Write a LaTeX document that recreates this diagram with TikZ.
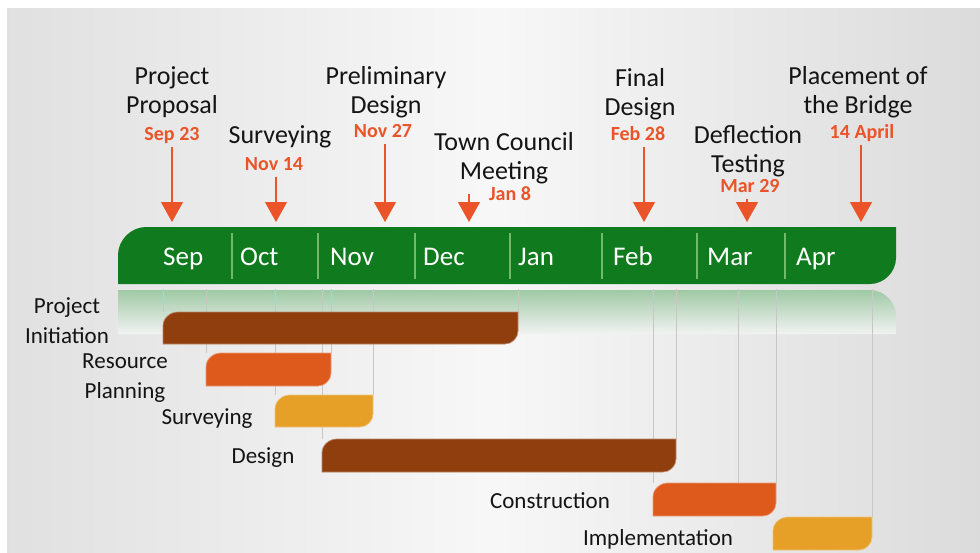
\documentclass[tikz,border=0pt]{standalone}
\usepackage{fontspec}
\setmainfont{Carlito}
\usetikzlibrary{positioning,arrows.meta,backgrounds}

\definecolor{barGreen}{RGB}{16,122,30}
\definecolor{sepGreen}{RGB}{112,186,104}
\definecolor{msRed}{RGB}{234,84,40}
\definecolor{inkBlack}{RGB}{20,20,20}
\definecolor{barBrown}{RGB}{145,62,15}
\definecolor{barOrange}{RGB}{222,90,28}
\definecolor{barGold}{RGB}{230,160,40}

% task bar: name, start, end, top, bottom, colour
\newcommand{\taskbar}[6]{%
  \fill[#6, draw=#6!62!white, line width=0.7pt]
    (#2,#5) -- (#2,#4+14) .. controls (#2,#4+6) and (#2+7,#4) .. (#2+15,#4) -- (#3,#4)
    -- (#3,#5-13) .. controls (#3,#5-6) and (#3-6,#5) .. (#3-13,#5) -- cycle;
  \coordinate (#1-s) at (#2,#4);
  \coordinate (#1-e) at (#3,#4);
}

\begin{document}
\begin{tikzpicture}[
    x=1pt, y=-1pt,
    milestone/.style={align=center, anchor=base, inner sep=0pt, text=inkBlack,
        font=\fontsize{26}{29}\selectfont},
    msdate/.style={anchor=base, text=msRed, inner xsep=0pt, inner ysep=4pt,
        text height=0.7em, text depth=0.25em,
        font=\bfseries\fontsize{20}{22}\selectfont},
    pin/.style={draw=msRed, line width=1.1pt, -{Triangle[width=22pt,length=20pt]}},
    month/.style={anchor=base west, inner sep=0pt, text=white,
        font=\fontsize{27}{30}\selectfont},
    monthsep/.style={draw=sepGreen, line width=2pt},
    task/.style={align=center, anchor=base, inner sep=0pt, text=inkBlack,
        font=\fontsize{23}{29.5}\selectfont},
    gridline/.style={draw=black!22, line width=0.6pt}
]
\useasboundingbox (0,0) rectangle (980,552);
\begin{scope}[on background layer]
  \fill[white] (0,0) rectangle (980,552);
  \shade[left color=black!12, right color=black!14, middle color=black!3] (7,8) rectangle (980,552);
  % reflection of the month axis
  \shade[top color=barGreen!40!white, bottom color=black!5]
    (118,290) -- (870,290) .. controls (884,290) and (896,302) .. (896,316) -- (896,334) -- (118,334) -- cycle;
\end{scope}

% month axis
\fill[barGreen] (118,284) -- (118,255) .. controls (118,240) and (131,227) .. (146,227) -- (896,227)
  -- (896,258) .. controls (896,272) and (884,284) .. (870,284) -- cycle;
\foreach \x in {232,318,415,510,602,697,785}
  \draw[monthsep] (\x,233) -- (\x,279);
\foreach \m/\x in {Sep/163,Oct/240,Nov/330,Dec/423,Jan/518,Feb/613,Mar/707,Apr/796}
  \node[month] (m\m) at (\x,265) {\m};

% milestones (base = last line)
\node[milestone] (tProp) at (172,113) {Project\\Proposal};
\node[msdate] (dProp) at (172,140) {Sep 23};
\node[milestone] (tSurv) at (280,143) {Surveying};
\node[msdate] (dSurv) at (274,170) {Nov 14};
\node[milestone] (tPrel) at (386,113) {Preliminary\\Design};
\node[msdate] (dPrel) at (383,137) {Nov 27};
\node[milestone] (tMeet) at (504,179) {Town Council\\Meeting};
\node[msdate] (dMeet) at (510,200) {Jan 8};
\node[milestone] (tFinal) at (640,115) {Final\\Design};
\node[msdate] (dFinal) at (638,140) {Feb 28};
\node[milestone] (tDefl) at (748,172) {Deflection\\Testing};
\node[msdate] (dDefl) at (750,192) {Mar 29};
\node[milestone] (tPlace) at (858,113) {Placement of\\the Bridge};
\node[msdate] (dPlace) at (862,138) {14 April};

\coordinate (aProp) at (172,222);
\coordinate (aSurv) at (276,222);
\coordinate (aPrel) at (385,222);
\coordinate (aMeet) at (469,222);
\coordinate (aFinal) at (644,222);
\coordinate (aDefl) at (747,222);
\coordinate (aPlace) at (861,222);

\draw[pin] (dProp.south -| aProp) -- (aProp);
\draw[pin] (dSurv.south -| aSurv) -- (aSurv);
\draw[pin] (dPrel.south -| aPrel) -- (aPrel);
\draw[pin, shorten <=5pt] (dMeet.north -| aMeet) -- (aMeet);
\draw[pin] (dFinal.south -| aFinal) -- (aFinal);
\draw[pin] (dDefl.south -| aDefl) -- (aDefl);
\draw[pin] (dPlace.south -| aPlace) -- (aPlace);

% tasks
\taskbar{init}{163}{518}{312}{344}{barBrown}
\taskbar{res}{206}{331}{353}{386}{barOrange}
\taskbar{surv}{275}{373}{395}{427}{barGold}
\taskbar{des}{322}{676}{439}{472}{barBrown}
\taskbar{con}{653}{776}{483}{516}{barOrange}
\taskbar{imp}{773}{872}{517}{550}{barGold}

\coordinate (axis) at (0,289);
\coordinate (mar-g) at (738,483);
\begin{scope}[on background layer]
  \foreach \c in {init-s,init-e,res-s,res-e,surv-s,surv-e,des-s,des-e,con-s,con-e,mar-g,imp-e}
    \draw[gridline] (\c |- axis) -- (\c);
\end{scope}

\node[task] (lInit) at (67,343) {Project\\Initiation};
\node[task] (lRes) at (125,398) {Resource\\Planning};
\node[task] (lSurv) at (207,424) {Surveying};
\node[task] (lDes) at (263,463) {Design};
\node[task] (lCon) at (550,508) {Construction};
\node[task] (lImp) at (658,545) {Implementation};
\end{tikzpicture}
\end{document}
